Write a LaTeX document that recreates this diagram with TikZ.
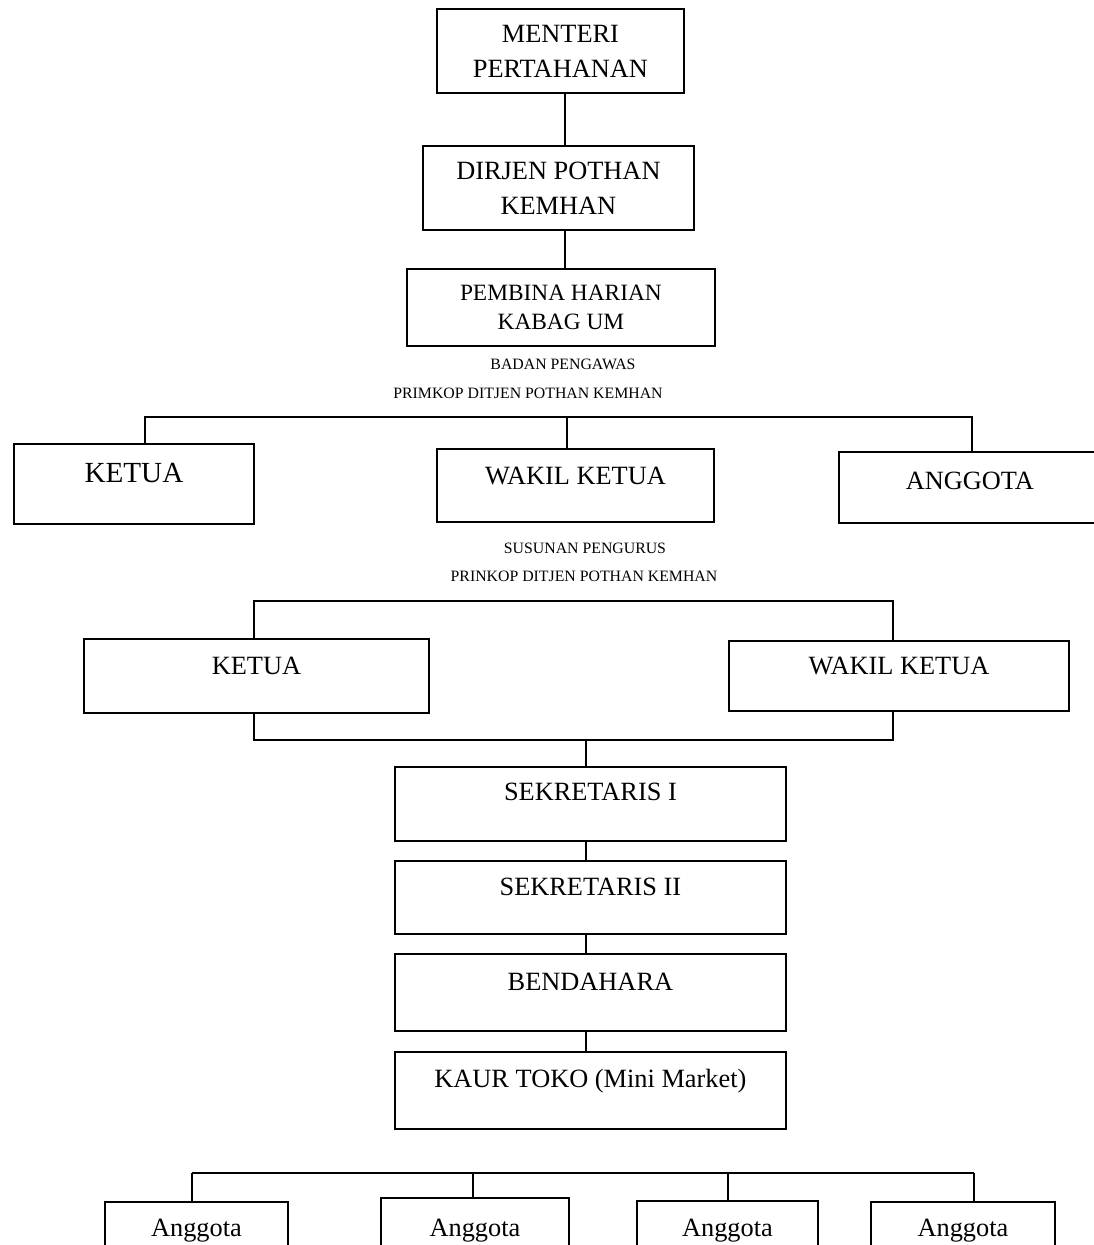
\documentclass[tikz,border=0pt]{standalone}
\usepackage{fontspec}
\setmainfont{Liberation Serif}
\usetikzlibrary{positioning}

\newcommand{\boxfont}{\fontsize{15}{20}\selectfont}
\newcommand{\smallfont}{\fontsize{9}{11}\selectfont}

\begin{document}
\begin{tikzpicture}[x=0.02cm, y=-0.02cm, font=\boxfont]
	\tikzstyle{box} = [draw, line width=1.1pt, rectangle, inner sep=0pt, anchor=north west, align=center];
	\tikzstyle{line} = [line width=0.85pt];
	\tikzstyle{caption} = [font=\smallfont, inner sep=0pt];

	\useasboundingbox (0,0) rectangle (1094,1245);

	% pimpinan
	\node [box, minimum width=4.94cm, minimum height=1.68cm] (menteri) at (436,8) {MENTERI\\PERTAHANAN};
	\node [box, minimum width=5.42cm, minimum height=1.68cm] (dirjen) at (422,145) {DIRJEN POTHAN\\KEMHAN};
	\node [box, minimum width=6.16cm, minimum height=1.54cm, font=\fontsize{13.3}{17}\selectfont] (pembina) at (406,268) {PEMBINA HARIAN\\KABAG UM};

	\coordinate (jT) at (565,0);
	\draw [line] (menteri.south -| jT) -- (dirjen.north -| jT);
	\draw [line] (dirjen.south -| jT) -- (pembina.north -| jT);

	% badan pengawas
	\node [caption] (bp) at (563,364) {BADAN PENGAWAS};
	\node [caption] (bpsub) at (528,393) {PRIMKOP DITJEN POTHAN KEMHAN};

	\node [box, minimum width=4.8cm, text height=.774cm, text depth=.826cm, font=\fontsize{16.6}{20}\selectfont] (ketuaA) at (13,443) {KETUA};
	\node [box, minimum width=5.54cm, text height=.715cm, text depth=.745cm] (wakilA) at (436,448) {WAKIL KETUA};
	\node [box, minimum width=5.24cm, text height=.755cm, text depth=.665cm] (anggotaA) at (838,451) {ANGGOTA};

	\coordinate (jA1) at (145,417);
	\coordinate (jA2) at (567,417);
	\coordinate (jA3) at (972,417);
	\draw [line] (ketuaA.north -| jA1) -- (jA1) -- (jA3) -- (anggotaA.north -| jA3);
	\draw [line] (jA2) -- (wakilA.north -| jA2);

	% susunan pengurus
	\node [caption] (sp) at (585,548) {SUSUNAN PENGURUS};
	\node [caption] (spsub) at (584,576) {PRINKOP DITJEN POTHAN KEMHAN};

	\node [box, minimum width=6.9cm, text height=.715cm, text depth=.765cm] (ketuaB) at (83,638) {KETUA};
	\node [box, minimum width=6.8cm, text height=.675cm, text depth=.725cm] (wakilB) at (728,640) {WAKIL KETUA};

	\coordinate (jB1) at (254,601);
	\coordinate (jB2) at (893,601);
	\draw [line] (ketuaB.north -| jB1) -- (jB1) -- (jB2) -- (wakilB.north -| jB2);

	\node [box, minimum width=7.82cm, text height=.675cm, text depth=.805cm] (sek1) at (394,766) {SEKRETARIS I};
	\node [box, minimum width=7.82cm, text height=.695cm, text depth=.765cm] (sek2) at (394,860) {SEKRETARIS II};
	\node [box, minimum width=7.82cm, text height=.735cm, text depth=.805cm] (bendahara) at (394,953) {BENDAHARA};
	\node [box, minimum width=7.82cm, text height=.715cm, text depth=.825cm] (kaur) at (394,1051) {KAUR TOKO (Mini Market)};

	\coordinate (jC1) at (254,740);
	\coordinate (jC2) at (893,740);
	\coordinate (jC3) at (586,740);
	\draw [line] (ketuaB.south -| jC1) -- (jC1) -- (jC2) -- (wakilB.south -| jC2);
	\draw [line] (jC3) -- (sek1.north -| jC3);
	\draw [line] (sek1.south -| jC3) -- (sek2.north -| jC3);
	\draw [line] (sek2.south -| jC3) -- (bendahara.north -| jC3);
	\draw [line] (bendahara.south -| jC3) -- (kaur.north -| jC3);

	% anggota
	\foreach \i/\x/\t/\w/\h/\j in {1/104/1201/3.66/.695/192, 2/380/1197/3.76/.775/473, 3/636/1200/3.62/.715/728, 4/870/1201/3.68/.695/974} {
		\node [box, minimum width=\w cm, text height=\h cm, text depth=.585cm] (ang\i) at (\x,\t) {Anggota};
		\coordinate (jD\i) at (\j,1173);
		\draw [line] (jD\i) -- (ang\i.north -| jD\i);
	}
	\draw [line] (jD1) -- (jD4);
\end{tikzpicture}
\end{document}
